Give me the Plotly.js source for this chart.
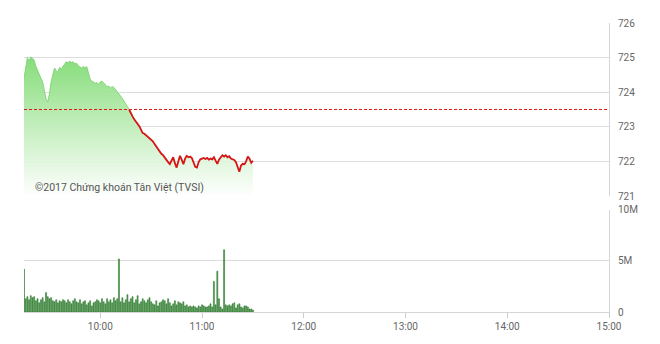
<!DOCTYPE html>
<html>
<head>
<meta charset="utf-8">
<script src="https://cdn.plot.ly/plotly-3.0.1.min.js"></script>
<style>html,body{margin:0;padding:0;background:#fff;}#chart{width:660px;height:344px;}</style>
</head>
<body>
<div id="chart"></div>
<script>
// Session start and minute step for the intraday series
const sessionDate = '2017-01-01';
const startTime = '09:15';
const refPrice = 723.5;

// Index value per minute, 09:15 .. 11:30
const priceValues = [
  724.40,724.75,725.00,724.90,725.02,724.98,724.92,724.75,724.62,724.55,
  724.40,724.30,724.05,723.80,723.72,723.95,724.30,724.50,724.70,724.62,
  724.58,724.72,724.66,724.75,724.82,724.88,724.85,724.90,724.86,724.88,
  724.82,724.84,724.76,724.72,724.70,724.75,724.70,724.74,724.55,724.38,
  724.32,724.30,724.26,724.28,724.22,724.30,724.32,724.26,724.22,724.15,
  724.18,724.12,724.16,724.14,724.08,724.02,723.95,723.88,723.82,723.74,
  723.66,723.58,723.50,723.38,723.30,723.22,723.16,723.08,723.02,722.92,
  722.82,722.80,722.76,722.72,722.68,722.62,722.58,722.50,722.42,722.38,
  722.30,722.22,722.18,722.10,722.05,721.98,721.92,722.02,722.12,721.95,
  721.82,722.00,722.16,722.05,721.92,722.08,722.16,722.12,722.14,722.10,
  721.95,721.84,721.82,721.98,722.06,722.08,722.10,722.07,722.10,722.05,
  722.08,722.06,722.12,722.02,721.93,722.05,722.10,722.18,722.14,722.18,
  722.12,722.15,722.08,722.06,722.04,721.98,721.85,721.70,721.88,721.93,
  721.92,722.00,722.14,722.08,721.96,722.02
];

// Volume per minute, millions of shares
const volumeValues = [
  4.2,1.3,1.5,1.2,1.6,1.4,1.5,1.1,1.3,0.9,
  1.2,1.4,1.0,1.9,1.5,1.3,1.4,1.1,1.0,1.2,
  0.9,1.1,1.0,1.2,1.1,0.9,1.2,1.0,0.8,1.1,
  1.3,1.0,0.9,1.2,0.8,1.0,1.1,0.7,0.9,1.1,
  0.6,0.9,1.0,1.2,1.1,0.9,1.3,1.0,0.8,1.3,
  1.0,1.2,0.9,1.4,1.1,1.3,5.2,1.0,1.4,0.9,
  1.2,1.7,1.0,1.3,1.5,0.9,1.2,1.6,0.8,1.0,
  1.3,1.1,0.9,1.2,1.4,1.0,0.8,0.7,1.1,0.6,
  0.9,1.0,1.2,1.1,0.8,1.3,0.9,0.6,0.8,1.1,
  0.7,1.0,0.9,0.8,1.0,0.6,0.7,0.5,0.6,0.5,
  0.6,0.5,0.4,0.6,0.5,0.7,0.6,0.5,0.5,0.6,
  0.8,0.5,3.0,0.7,4.0,1.3,0.5,0.3,6.1,0.7,
  0.6,0.7,0.6,0.8,0.9,0.4,0.7,0.8,0.5,0.4,
  0.6,0.6,0.5,0.3,0.3,0.2
];

const xTickVals = ['10:00','11:00','12:00','13:00','14:00','15:00'];
const priceTicks = [721,722,723,724,725,726];
const volTickVals = [0,5,10];
const volTickText = ['0','5M','10M'];
const xRange = ['09:15','15:00'];
const watermark = '©2017 Chứng khoán Tân Việt (TVSI)';

function pad(n){return (n<10?'0':'')+n;}
function minuteTimes(start, count){
  const [h,m] = start.split(':').map(Number);
  const out=[];
  for(let i=0;i<count;i++){
    const t=h*60+m+i;
    out.push(sessionDate+' '+pad(Math.floor(t/60))+':'+pad(t%60));
  }
  return out;
}
const times = minuteTimes(startTime, priceValues.length);
let crossIdx = priceValues.findIndex(v => v <= refPrice);
if (crossIdx < 0) crossIdx = priceValues.length-1;

const font = 'Roboto, sans-serif';

const traces = [
  {
    x: times, y: priceValues, type:'scatter', mode:'lines',
    fill:'tozeroy',
    fillgradient:{type:'vertical', start:721, stop:725.1,
      colorscale:[[0,'rgba(255,255,255,0.9)'],[1,'rgba(125,218,112,0.95)']]},
    line:{width:0, color:'rgba(0,0,0,0)'},
    hoverinfo:'skip', xaxis:'x', yaxis:'y'
  },
  {
    x: times.slice(0,crossIdx+1), y: priceValues.slice(0,crossIdx+1),
    type:'scatter', mode:'lines',
    line:{width:1, color:'#86d67c'}, xaxis:'x', yaxis:'y'
  },
  {
    x: times.slice(crossIdx), y: priceValues.slice(crossIdx),
    type:'scatter', mode:'lines',
    line:{width:1.8, color:'#d61414'}, xaxis:'x', yaxis:'y'
  },
  {
    x: times, y: volumeValues, type:'bar',
    marker:{color:'#62a862', line:{color:'#176617', width:0.5}},
    xaxis:'x', yaxis:'y2'
  }
];

const layout = {
  width:660, height:344,
  margin:{l:24, r:51, t:23, b:32},
  paper_bgcolor:'#fff', plot_bgcolor:'#fff',
  showlegend:false,
  bargap:0.4,
  font:{family:font, size:10, color:'#666'},
  xaxis:{
    type:'date',
    range:[sessionDate+' '+xRange[0], sessionDate+' '+xRange[1]],
    tickvals: xTickVals.map(t => sessionDate+' '+t),
    ticktext: xTickVals,
    ticks:'outside', ticklen:5, tickcolor:'#ccc',
    showgrid:false, zeroline:false,
    showline:true, linecolor:'#d5d5d5', linewidth:1,
    anchor:'y2',
    tickfont:{family:font, size:10, color:'#666'}
  },
  yaxis:{
    domain:[0.4014,1], side:'right',
    range:[721,726], tickvals:priceTicks,
    showgrid:true, gridcolor:'#dcdcdc', gridwidth:1,
    zeroline:false, showline:true, linecolor:'#d5d5d5', linewidth:1,
    ticks:'', ticklabelstandoff:6,
    tickfont:{family:font, size:10, color:'#666'}
  },
  yaxis2:{
    domain:[0,0.353], side:'right',
    range:[0,10], tickvals:volTickVals, ticktext:volTickText,
    showgrid:true, gridcolor:'#dcdcdc', gridwidth:1,
    zeroline:false, showline:true, linecolor:'#d5d5d5', linewidth:1,
    ticks:'', ticklabelstandoff:6,
    tickfont:{family:font, size:10, color:'#666'}
  },
  shapes:[
    {type:'line', xref:'paper', x0:0, x1:1, yref:'y', y0:refPrice, y1:refPrice,
     line:{color:'#e01818', width:1, dash:'3px,2px'}}
  ],
  annotations:[
    {text:watermark, xref:'paper', yref:'y', x:0.0155, y:721.24,
     xanchor:'left', yanchor:'middle', showarrow:false,
     font:{family:font, size:10.5, color:'#555'}}
  ]
};

Plotly.newPlot('chart', traces, layout, {displayModeBar:false, staticPlot:true});
</script>
</body>
</html>
